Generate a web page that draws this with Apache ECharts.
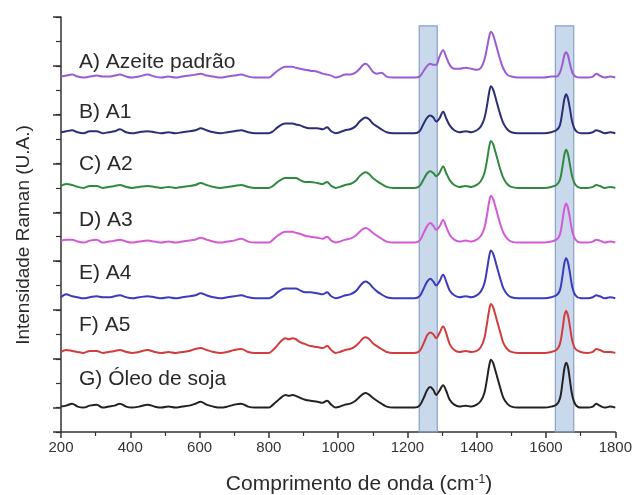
<!DOCTYPE html>
<html>
<head>
<meta charset="utf-8">
<title>Espectros Raman</title>
<script src="https://cdn.jsdelivr.net/npm/echarts@6/dist/echarts.min.js"></script>
<style>
  html, body { margin: 0; padding: 0; background: #fff; }
  #chart { width: 635px; height: 495px; }
</style>
</head>
<body>
<div id="chart"></div>
<script>
// numero de onda (cm-1)
const wavenumbers = [
  200, 215, 232, 248, 265, 283, 303, 320, 338, 355, 370, 388, 405, 425, 450, 470,
  490, 510, 530, 550, 570, 588, 603, 620, 640, 660, 680, 700, 720, 740, 760, 780, 800,
  812, 825, 838, 848, 858, 868, 878, 890, 905, 920, 940, 955, 968, 980, 993, 1005,
  1020, 1035, 1050, 1062, 1072, 1080, 1090, 1100, 1112, 1125, 1140, 1160, 1180, 1200, 1220,
  1235, 1247, 1257, 1266, 1275, 1283, 1292, 1303, 1312, 1322, 1335, 1350, 1368, 1385, 1400,
  1412, 1422, 1430, 1436, 1441, 1447, 1453, 1460, 1468, 1477, 1488, 1500, 1520, 1545, 1570, 1595, 1615,
  1630, 1640, 1648, 1653, 1658, 1663, 1669, 1676, 1685, 1700, 1720, 1735, 1745, 1755, 1770, 1785, 1800
];

const names = ['A) Azeite padrão', 'B) A1', 'C) A2', 'D) A3', 'E) A4', 'F) A5', 'G) Óleo de soja'];
const colors = ['#9a5cd2', '#2c2e76', '#2f8a3f', '#d35ad6', '#3b3bbf', '#d33c3e', '#222222'];
const offsets = [363, 306, 250, 194, 137, 81, 25];
const labelY = [379, 328, 274, 217, 163, 109, 54];
const labelX = 252;

const azeitePadrao = [
  1, 2, 3, 1, 0, 1, 2, 1, 1, 2, 3, 1, 0, 1, 3, 1,
  0, 1, 0, 1, 2, 3, 4, 2, 1, 0, 1, 2, 3, 1, 0, 0, 0,
  3, 7, 10, 11, 11, 11, 10, 9, 8, 7, 6, 4, 3, 2, 0, 1,
  3, 3, 5, 9, 13, 14, 11, 6, 4, 5, 1, 0, 0, 0, 0,
  1, 7, 12, 14, 13, 13, 21, 28, 21, 13, 9, 9, 10, 9, 8,
  10, 18, 31, 42, 47, 44, 37, 28, 18, 9, 3, 1, 0, 0, 0, 0, 1,
  1, 5, 15, 23, 26, 23, 14, 5, 1, 0, 0, 1, 4, 2, 0, 1, 0
];
const a1 = [
  1, 2, 3, 1, 0, 2, 2, 0, 1, 2, 4, 1, 0, 1, 2, 1,
  0, 1, 0, 1, 2, 3, 5, 3, 1, 0, 1, 2, 3, 1, 0, 0, 0,
  2, 6, 9, 10, 10, 10, 9, 8, 6, 5, 5, 4, 6, 2, 0, 1,
  3, 4, 7, 12, 15, 16, 14, 10, 7, 4, 1, 0, 0, 0, 0,
  2, 10, 16, 18, 16, 12, 15, 22, 15, 8, 3, 1, 2, 1, 3,
  7, 15, 29, 42, 48, 45, 38, 29, 19, 10, 4, 1, 0, 0, 0, 0, 1,
  3, 8, 24, 35, 40, 36, 25, 11, 3, 0, 0, 1, 3, 2, 0, 1, 0
];
const a2 = [
  2, 4, 3, 1, 0, 2, 2, 0, 1, 2, 3, 1, 0, 1, 2, 1,
  0, 1, 0, 1, 2, 3, 5, 3, 1, 0, 1, 2, 3, 1, 0, 0, 0,
  2, 6, 9, 10, 10, 10, 10, 8, 6, 6, 5, 4, 6, 2, 0, 1,
  3, 4, 7, 12, 15, 16, 14, 10, 7, 4, 1, 0, 0, 0, 0,
  2, 9, 15, 17, 15, 12, 15, 22, 15, 8, 3, 1, 2, 1, 3,
  7, 15, 29, 42, 48, 45, 38, 29, 19, 10, 4, 1, 0, 0, 0, 0, 1,
  3, 8, 23, 34, 39, 35, 24, 11, 3, 0, 0, 1, 3, 2, 0, 1, 0
];
const a3 = [
  2, 3, 3, 1, 0, 2, 3, 0, 1, 2, 3, 1, 0, 1, 2, 1,
  0, 1, 0, 1, 2, 3, 5, 3, 1, 0, 1, 2, 4, 1, 0, 0, 0,
  3, 7, 10, 11, 11, 11, 10, 9, 7, 6, 5, 4, 6, 2, 0, 1,
  3, 4, 7, 11, 14, 15, 13, 10, 7, 4, 1, 0, 0, 0, 0,
  2, 10, 17, 20, 17, 13, 16, 23, 16, 8, 3, 1, 2, 1, 3,
  7, 15, 29, 42, 48, 45, 38, 29, 19, 10, 4, 1, 0, 0, 0, 0, 1,
  3, 8, 24, 35, 40, 36, 25, 11, 3, 0, 0, 1, 3, 2, 0, 1, 0
];
const a4 = [
  1, 4, 2, 1, 0, 1, 2, 1, 1, 2, 3, 1, 0, 1, 2, 1,
  0, 1, 0, 1, 2, 3, 5, 3, 1, 0, 1, 2, 3, 1, 0, 0, 0,
  2, 6, 9, 10, 10, 10, 10, 8, 6, 6, 5, 4, 6, 2, 0, 1,
  3, 4, 7, 12, 16, 17, 15, 11, 7, 4, 1, 0, 0, 0, 0,
  2, 10, 17, 20, 17, 13, 17, 24, 17, 8, 3, 1, 2, 1, 3,
  7, 15, 30, 43, 49, 46, 39, 30, 20, 10, 4, 1, 0, 0, 0, 0, 1,
  3, 8, 24, 36, 41, 37, 26, 11, 3, 0, 0, 1, 3, 2, 0, 1, 0
];
const a5 = [
  1, 3, 2, 1, 0, 2, 2, 0, 1, 2, 3, 1, 0, 1, 3, 1,
  0, 1, 0, 1, 2, 4, 5, 3, 1, 0, 1, 3, 4, 1, 0, 0, 0,
  3, 8, 13, 15, 14, 15, 14, 11, 9, 7, 6, 5, 7, 3, 0, 1,
  3, 4, 7, 11, 15, 16, 14, 10, 7, 4, 1, 0, 0, 0, 0,
  2, 10, 18, 21, 19, 15, 20, 27, 20, 9, 3, 1, 2, 1, 2,
  6, 15, 31, 44, 50, 47, 40, 31, 21, 10, 4, 1, 0, 0, 0, 0, 1,
  3, 9, 25, 38, 43, 39, 27, 12, 4, 1, 0, 1, 4, 3, 1, 1, 0
];
const oleoSoja = [
  1, 2, 4, 1, 0, 2, 3, 0, 1, 2, 4, 1, 0, 1, 3, 1,
  0, 1, 0, 1, 2, 4, 6, 3, 1, 0, 1, 3, 4, 1, 0, 0, 0,
  3, 7, 11, 13, 12, 13, 12, 10, 8, 7, 6, 5, 7, 3, 0, 1,
  3, 4, 7, 11, 14, 15, 13, 10, 7, 4, 1, 0, 0, 0, 0,
  2, 10, 18, 21, 18, 13, 17, 23, 17, 8, 3, 1, 2, 1, 3,
  7, 15, 30, 43, 49, 46, 39, 30, 20, 10, 4, 1, 0, 0, 0, 0, 1,
  3, 9, 27, 40, 46, 42, 28, 12, 3, 0, 0, 1, 4, 2, 0, 1, 0
];
const spectra = [azeitePadrao, a1, a2, a3, a4, a5, oleoSoja];

// faixas destacadas (cm-1)
const bands = [[1234, 1286], [1627, 1680]];
const bandTop = 416;

const fontFamily = '"Liberation Sans", Arial, sans-serif';
const chart = echarts.init(document.getElementById('chart'));

const series = spectra.map((values, i) => ({
  name: names[i],
  type: 'line',
  data: wavenumbers.map((x, j) => [x, offsets[i] + values[j]]),
  showSymbol: false,
  smooth: 0.35,
  lineStyle: { color: colors[i], width: 2 },
  z: 3,
  markPoint: {
    silent: true,
    symbol: 'circle',
    symbolSize: 0,
    data: [{ coord: [labelX, labelY[i]] }],
    label: {
      show: true,
      position: 'right',
      distance: 0,
      formatter: names[i],
      color: '#2a2a2a',
      fontSize: 21,
      fontFamily: fontFamily
    }
  }
}));

series[6].markArea = {
  silent: true,
  z: 1,
  itemStyle: {
    color: 'rgba(128, 163, 210, 0.42)',
    borderColor: '#86a2c8',
    borderWidth: 1.2
  },
  data: bands.map(b => [{ xAxis: b[0], yAxis: 0 }, { xAxis: b[1], yAxis: bandTop }])
};

chart.setOption({
  animation: false,
  backgroundColor: '#fff',
  grid: { left: 61, right: 17, top: 17, bottom: 63 },
  xAxis: {
    type: 'value',
    min: 200,
    max: 1800,
    interval: 200,
    axisLine: { lineStyle: { color: '#333', width: 1.5 } },
    axisTick: { length: 6, lineStyle: { color: '#333', width: 1.5 } },
    minorTick: { show: true, splitNumber: 2, length: 4, lineStyle: { color: '#333', width: 1.2 } },
    axisLabel: {
      color: '#333',
      fontSize: 15,
      fontFamily: fontFamily,
      margin: 8,
      formatter: v => String(v)
    },
    splitLine: { show: false }
  },
  yAxis: [
    {
      type: 'value',
      min: 0,
      max: 425,
      interval: 25,
      axisLine: { show: true, lineStyle: { color: '#333', width: 1.5 } },
      axisTick: { show: true, length: 5, lineStyle: { color: '#333', width: 1.2 } },
      axisLabel: { show: false },
      splitLine: { show: false }
    },
    {
      type: 'value',
      position: 'left',
      inverse: true,
      min: 0,
      max: 425,
      interval: 50,
      axisLine: { show: false },
      axisTick: { show: true, length: 8, lineStyle: { color: '#333', width: 1.5 } },
      axisLabel: { show: false },
      splitLine: { show: false }
    }
  ],
  graphic: [
    {
      type: 'text',
      x: 24,
      y: 235,
      rotation: Math.PI / 2,
      style: {
        text: 'Intensidade Raman (U.A.)',
        fill: '#2a2a2a',
        fontSize: 19,
        fontFamily: fontFamily,
        align: 'center',
        verticalAlign: 'middle'
      }
    },
    {
      type: 'text',
      x: 359,
      y: 484,
      style: {
        text: 'Comprimento de onda (cm{sup|-1})',
        fill: '#2a2a2a',
        fontSize: 21,
        fontFamily: fontFamily,
        align: 'center',
        verticalAlign: 'middle',
        rich: {
          sup: { fontSize: 12, fontFamily: fontFamily, fill: '#2a2a2a', verticalAlign: 'top' }
        }
      }
    }
  ],
  series: series
});
</script>
</body>
</html>
